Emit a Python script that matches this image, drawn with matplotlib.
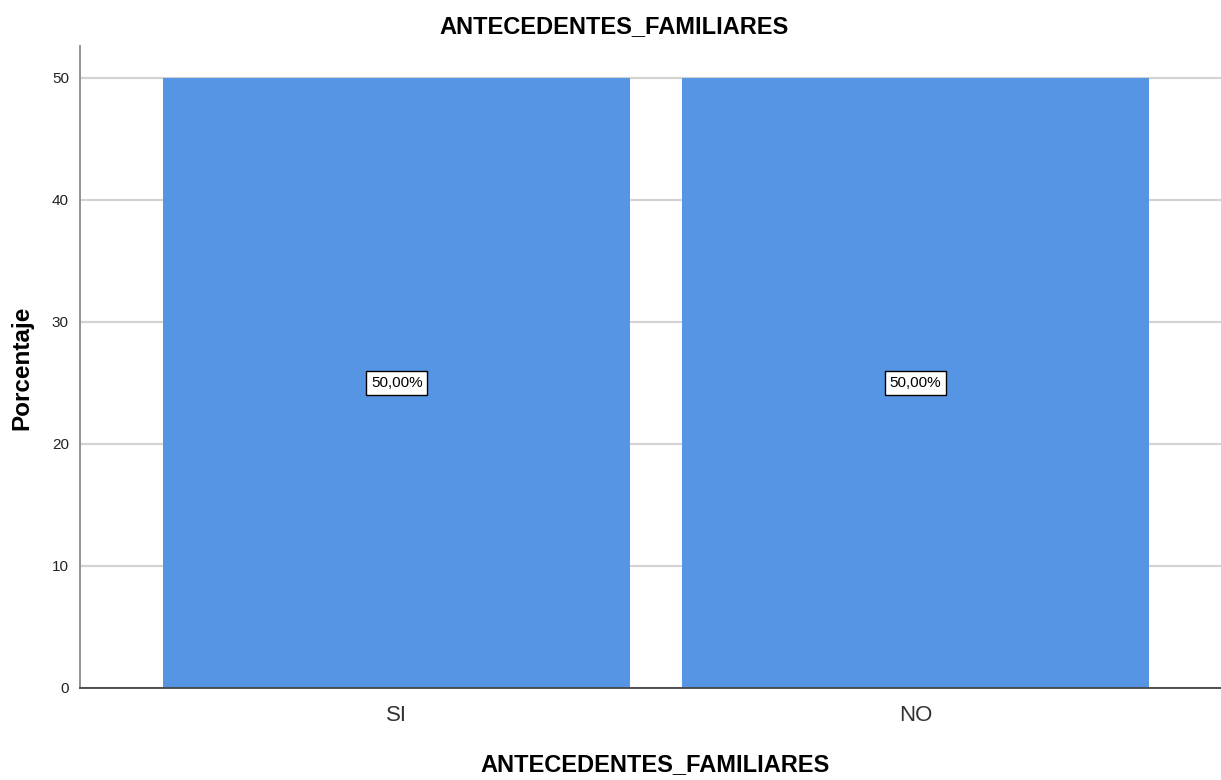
import matplotlib
matplotlib.use("Agg")
import matplotlib.pyplot as plt

plt.rcParams["font.family"] = ["Liberation Sans", "DejaVu Sans"]

categories = ["SI", "NO"]
percent = [50.0, 50.0]
y_ticks = [0, 10, 20, 30, 40, 50]

BAR_COLOR = "#5595e3"
GRID_COLOR = "#d3d3d3"

W, H = 1221, 780
fig = plt.figure(figsize=(W / 100, H / 100), dpi=100)
ax = fig.add_axes([0.0655, 0.118, 0.9345, 0.823])

x = list(range(len(categories)))
ax.yaxis.grid(True, color=GRID_COLOR, lw=1.6)
ax.set_axisbelow(True)
ax.bar(x, percent, width=0.9, color=BAR_COLOR, zorder=2)

# value boxes in the middle of each bar
for xi, val in zip(x, percent):
    ax.text(xi, val / 2, f"{val:.2f}%".replace(".", ","),
            ha="center", va="center", fontsize=11, color="black", zorder=3,
            bbox=dict(boxstyle="square,pad=0.3", fc="white", ec="black", lw=1.0))

ax.set_xlim(-0.611, 1.589)
ax.set_ylim(0, 52.62)
ax.set_xticks(x)
ax.set_xticklabels(categories, fontsize=16, color="#333333")
ax.set_yticks(y_ticks)
ax.tick_params(axis="y", length=0, labelsize=11, pad=8, colors="#222222")
ax.tick_params(axis="x", length=0, pad=12)

for side in ("top", "right"):
    ax.spines[side].set_visible(False)
ax.spines["left"].set_color("#8a8a8a")
ax.spines["left"].set_linewidth(1.3)
ax.spines["bottom"].set_color("#444444")
ax.spines["bottom"].set_linewidth(1.3)

fig.text(614 / W, 1 - 27 / H, "ANTECEDENTES_FAMILIARES", fontsize=17,
         fontweight="bold", ha="center", va="center")
fig.text(655 / W, 1 - 765 / H, "ANTECEDENTES_FAMILIARES", fontsize=17,
         fontweight="bold", ha="center", va="center")
fig.text(22 / W, 1 - 368 / H, "Porcentaje", fontsize=17.5, fontweight="bold",
         rotation=90, ha="center", va="center")

fig.savefig("out.png", dpi=100)
